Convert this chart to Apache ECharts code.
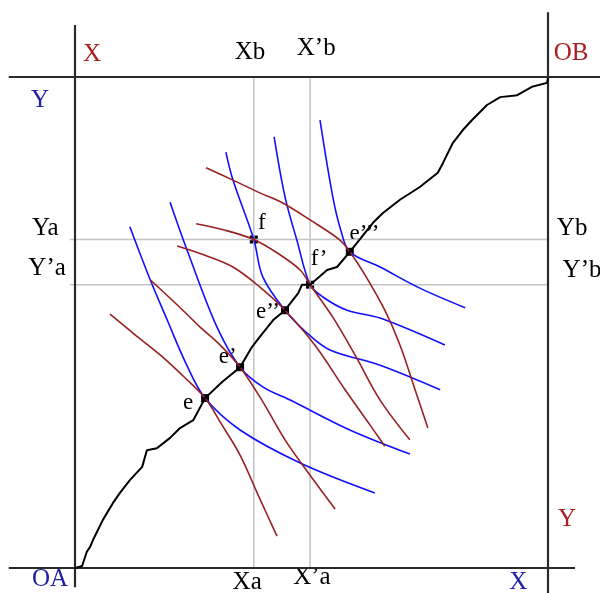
<!DOCTYPE html>
<html>
<head>
  <meta charset="UTF-8">
  <title>Edgeworth box</title>
  <style>
    html, body { margin: 0; padding: 0; background: #fff; }
  </style>
</head>
<body>
  <div id="chart" style="width: 600px; height: 593px;"></div>
  <script src="https://cdn.jsdelivr.net/npm/echarts@6/dist/echarts.min.js"></script>
  <script>
    // box units: OA = (0,0), OB = (100,100)
    const contractCurve = [
      [0, 0], [1.5, 0.4], [2.5, 3.3], [3.2, 4.3], [3.8, 5.7], [5.9, 9.8], [8.0, 13.2],
      [9.5, 15.3], [11.6, 17.9], [14.2, 20.6], [15.2, 24.0], [17.3, 24.4], [20.1, 26.5],
      [22.2, 28.5], [25.0, 30.1], [27.5, 34.6], [31.1, 37.9], [34.9, 40.9], [37.4, 45.0],
      [39.1, 47.1], [41.9, 50.5], [44.4, 52.5], [47.2, 56.0], [48.0, 57.7], [49.7, 57.7],
      [53.3, 60.7], [55.4, 61.3], [58.1, 64.4], [63.0, 70.3], [65.1, 72.3], [68.7, 75.0],
      [72.9, 77.6], [76.7, 80.5], [77.8, 82.5], [79.9, 86.6], [82.0, 89.2], [83.9, 91.2],
      [87.1, 94.3], [89.9, 95.9], [93.5, 96.3], [96.6, 98.0], [99.8, 98.8], [100, 99.8]
    ];

    const blueCurves = [
      [[11.6, 69.5], [15.9, 58.7], [19.5, 50.5], [23.3, 42.0], [27.5, 34.6], [34.9, 28.1], [47.6, 21.4], [63.4, 15.3]],
      [[20.1, 74.5], [23.9, 64.2], [30.0, 49.1], [34.9, 40.9], [39.7, 36.9], [45.5, 34.2], [58.1, 28.1], [70.8, 23.2]],
      [[31.9, 84.7], [33.4, 79.0], [37.8, 66.9], [39.7, 59.3], [44.4, 52.5], [49.0, 47.9], [53.9, 44.4], [64.5, 41.3], [77.2, 36.3]],
      [[42.1, 87.8], [44.4, 75.6], [46.9, 66.8], [49.7, 57.7], [52.4, 55.2], [57.5, 52.5], [64.5, 50.9], [78.2, 45.4]],
      [[51.8, 91.2], [54.5, 75.6], [56.2, 68.8], [58.1, 64.4], [64.5, 61.3], [72.9, 57.0], [82.5, 53.0]]
    ];

    const redCurves = [
      [[7.4, 51.7], [12.7, 47.5], [18.0, 43.4], [23.3, 38.7], [27.5, 34.6], [31.1, 29.1], [34.9, 23.0], [38.7, 14.9], [42.7, 6.5]],
      [[15.9, 58.7], [22.8, 52.5], [26.4, 49.1], [30.7, 45.4], [34.9, 40.9], [39.5, 34.2], [44.4, 26.1], [49.7, 18.9], [55.0, 12.0]],
      [[21.6, 65.6], [27.5, 63.7], [33.4, 61.3], [39.1, 57.2], [44.4, 52.5], [50.7, 45.4], [57.1, 36.3], [62.4, 29.1], [65.5, 24.8]],
      [[25.6, 70.1], [31.7, 68.8], [37.8, 66.9], [42.7, 64.2], [47.6, 60.7], [49.7, 57.7], [54.5, 51.1], [59.2, 43.4], [64.5, 34.2], [70.8, 26.1]],
      [[27.7, 81.5], [33.4, 79.0], [39.1, 76.4], [44.0, 74.3], [49.7, 70.9], [56.0, 66.8], [58.1, 64.4], [61.3, 59.7], [65.5, 52.5], [68.7, 45.4], [71.9, 36.3], [74.6, 28.5]]
    ];

    const boxEdges = [
      [[0, -3.9], [0, 110.6]],
      [[-14.0, 100], [111, 100]],
      [[100, 113.2], [100, -5.1]],
      [[-14.0, 0], [105.7, 0]]
    ];

    const guideLines = [
      [[37.8, 0], [37.8, 100]],
      [[49.7, 0], [49.7, 100]],
      [[-1.1, 66.9], [100, 66.9]],
      [[-1.1, 57.7], [100, 57.7]]
    ];

    const points = [[27.5, 34.6], [34.9, 40.9], [44.4, 52.5], [58.1, 64.4], [37.8, 66.9], [49.7, 57.7]];

    const pointLabels = [
      ['e', 23.9, 33.6], ['e’', 32.3, 43.0], ['e’’', 40.8, 52.1], ['e’’’', 61.2, 68.0],
      ['f', 39.5, 70.2], ['f’', 51.6, 62.9]
    ];

    // [text, x, y, colour]
    const axisLabels = [
      ['X', 3.6, 104.5, '#a82020'], ['Y', -7.4, 95.3, '#2020a8'],
      ['Xb', 37.0, 105.1, '#000'], ['X’b', 51.0, 105.9, '#000'],
      ['OB', 104.9, 104.9, '#a82020'],
      ['Ya', -6.3, 69.2, '#000'], ['Y’a', -5.9, 61.1, '#000'],
      ['Yb', 105.1, 69.2, '#000'], ['Y’b', 107.2, 60.7, '#000'],
      ['OA', -5.3, -2.4, '#2020a8'],
      ['Xa', 36.4, -2.9, '#000'], ['X’a', 50.1, -2.0, '#000'],
      ['Y', 104.0, 9.8, '#a82020'], ['X', 93.7, -2.9, '#2020a8']
    ];

    const serif = '"Liberation Serif", "DejaVu Serif", serif';

    const series = [];
    guideLines.forEach(d => series.push({
      type: 'line', data: d, symbol: 'none', silent: true,
      lineStyle: { color: '#c4c4c4', width: 1.5 }
    }));
    boxEdges.forEach(d => series.push({
      type: 'line', data: d, symbol: 'none', silent: true,
      lineStyle: { color: '#2a2a2a', width: 2.2 }
    }));
    blueCurves.forEach(d => series.push({
      type: 'line', data: d, symbol: 'none', smooth: 0.35,
      lineStyle: { color: '#1010ff', width: 1.6 }
    }));
    redCurves.forEach(d => series.push({
      type: 'line', data: d, symbol: 'none', smooth: 0.35,
      lineStyle: { color: '#992020', width: 1.6 }
    }));
    series.push({
      type: 'line', data: contractCurve, symbol: 'none',
      lineStyle: { color: '#000', width: 2 }
    });
    series.push({
      type: 'scatter', data: points, symbol: 'rect', symbolSize: 8,
      itemStyle: { color: '#000', opacity: 1 }
    });
    series.push({
      type: 'scatter', symbolSize: 0,
      itemStyle: { opacity: 1 },
      data: pointLabels.map(l => ({ value: [l[1], l[2]], name: l[0] })),
      label: {
        show: true, position: 'inside', formatter: p => p.name,
        fontFamily: serif, fontSize: 23, color: '#000'
      }
    });
    series.push({
      type: 'scatter', symbolSize: 0,
      itemStyle: { opacity: 1 },
      data: axisLabels.map(l => ({
        value: [l[1], l[2]], name: l[0],
        label: { color: l[3] }
      })),
      label: {
        show: true, position: 'inside', formatter: p => p.name,
        fontFamily: serif, fontSize: 25
      }
    });

    const myChart = echarts.init(document.getElementById('chart'));
    myChart.setOption({
      animation: false,
      grid: { left: 0, right: 0, top: 0, bottom: 0 },
      xAxis: { type: 'value', min: -15.856, max: 110.994, show: false },
      yAxis: { type: 'value', min: -5.0916, max: 115.682, show: false },
      series: series
    });
  </script>
</body>
</html>
